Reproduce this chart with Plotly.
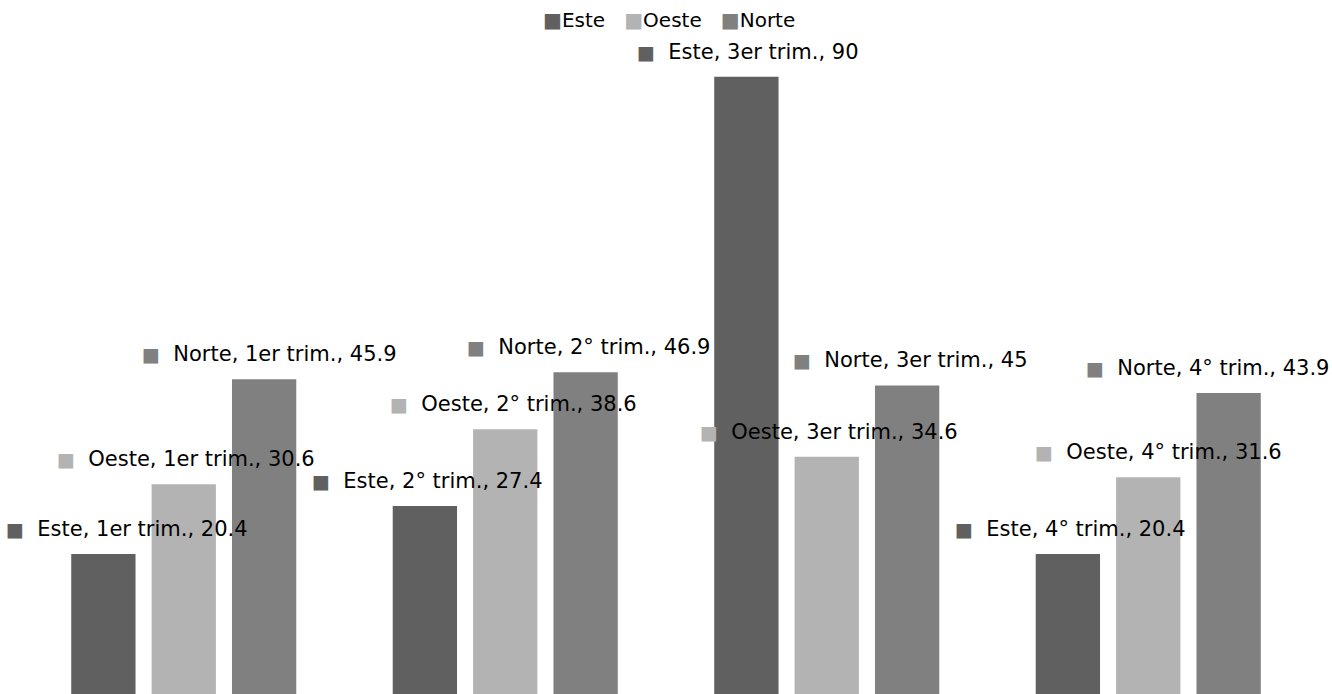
import plotly.graph_objects as go

categories = ["1er trim.", "2° trim.", "3er trim.", "4° trim."]
series_names = ["Este", "Oeste", "Norte"]
este = [20.4, 27.4, 90, 20.4]
oeste = [30.6, 38.6, 34.6, 31.6]
norte = [45.9, 46.9, 45, 43.9]

values = [este, oeste, norte]
colors = ["#606060", "#b3b3b3", "#808080"]

# label horizontal nudges (px), per series per category (style only)
label_xshift = [
    [24, 3, 2, 3],
    [2, 8, 2, 10],
    [5, 3, 3, -21],
]

FONT = "DejaVu Sans, sans-serif"
LABEL_SIZE = 21
BARGAP = 0.25
BARGROUPGAP = 0.2

fig = go.Figure()
for name, vals, col in zip(series_names, values, colors):
    fig.add_trace(go.Bar(
        name=name, x=categories, y=vals, marker=dict(color=col, line=dict(width=0)),
        hoverinfo="skip", showlegend=False,
    ))

slot = (1 - BARGAP) / len(series_names)
annotations = []
for si, (name, vals, col) in enumerate(zip(series_names, values, colors)):
    off = (si - (len(series_names) - 1) / 2) * slot
    for ci, (cat, v) in enumerate(zip(categories, vals)):
        txt = (f"<span style='color:{col};font-size:19px'>■</span>&nbsp;&nbsp;"
               f"{name}, {cat}, {v:g}")
        annotations.append(dict(
            x=ci + off, y=v, xref="x", yref="y", text=txt, showarrow=False,
            xanchor="center", yanchor="middle", yshift=25, xshift=label_xshift[si][ci],
            font=dict(family=FONT, size=LABEL_SIZE, color="#000000"),
        ))

legend_txt = "&nbsp;&nbsp;&nbsp;".join(
    f"<span style='color:{c};font-size:20px'>■</span>{n}"
    for n, c in zip(series_names, colors)
)
annotations.append(dict(
    x=0.5, y=1, xref="paper", yref="paper", text=legend_txt, showarrow=False,
    xanchor="center", yanchor="middle", yshift=-20, xshift=3,
    font=dict(family=FONT, size=20, color="#000000"),
))

fig.update_layout(
    width=1332, height=694,
    margin=dict(l=23, r=23, t=0, b=0, autoexpand=False),
    paper_bgcolor="white", plot_bgcolor="white",
    barmode="group", bargap=BARGAP, bargroupgap=BARGROUPGAP,
    xaxis=dict(visible=False, type="category", range=[-0.5, len(categories) - 0.5]),
    yaxis=dict(visible=False, range=[0, 101.2]),
    showlegend=False,
    annotations=annotations,
    font=dict(family=FONT),
)

fig.write_html("out.html", post_script="document.body.style.margin='0';",
               config={"displayModeBar": False})
